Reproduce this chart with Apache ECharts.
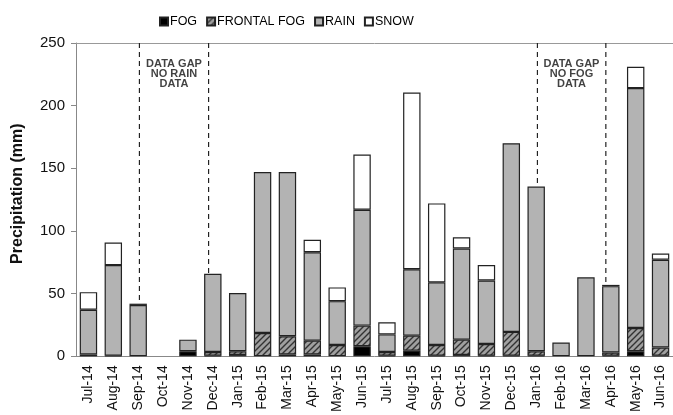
<!DOCTYPE html>
<html><head><meta charset="utf-8">
<script src="https://cdn.jsdelivr.net/npm/echarts@6/dist/echarts.min.js"></script>
<style>html,body{margin:0;padding:0;background:#fff}#c{width:673px;height:415px}</style>
</head><body><div id="c"></div>
<script>
const months = ['Jul-14','Aug-14','Sep-14','Oct-14','Nov-14','Dec-14','Jan-15','Feb-15','Mar-15','Apr-15','May-15','Jun-15','Jul-15','Aug-15','Sep-15','Oct-15','Nov-15','Dec-15','Jan-16','Feb-16','Mar-16','Apr-16','May-16','Jun-16'];
const fog     = [1.5,0.5,0,0,4,0.5,1,0,1.5,1.5,0,8,0.5,4.5,0.5,1,0.5,0.5,0.5,0,0,0.5,4,0.5];
const frontal = [0,0,0,0,0,3,3,18.6,14.5,11,9,16.5,3,12,8.5,12.3,9.3,19,3.5,0,0,2.5,18.6,6.5];
const rain    = [35.7,72.3,41,0,9.3,62.3,46.5,128.4,131,70.5,35,92.5,14,53,50,72.7,50.7,150.5,131.4,11,63,53,191.4,70];
const snow    = [14,18,1,0,0,0,0,0,0,10,11,44,9.7,141,63,9,12.3,0,0,0,0,1,17,5];
const yTicks  = [0,50,100,150,200,250];
// data-gap annotation lines (x in category units, y end = bar top)
const gapX    = [2.55,5.33,18.55,21.3];
const gapEnd  = [42,65.8,135.4,57];
const gapText = [{x:3.94,y:225,t:'DATA GAP\nNO RAIN\nDATA'},{x:19.92,y:225,t:'DATA GAP\nNO FOG\nDATA'}];

function hatch(){
  const c=document.createElement('canvas'); c.width=6; c.height=6;
  const g=c.getContext('2d'); g.fillStyle='#a0a0a0'; g.fillRect(0,0,6,6);
  g.strokeStyle='#333'; g.lineWidth=1.4;
  g.beginPath(); g.moveTo(0,6); g.lineTo(6,0); g.moveTo(-1,1); g.lineTo(1,-1); g.moveTo(5,7); g.lineTo(7,5); g.stroke();
  return c;
}
const nz = a => a.map(v => v === 0 ? '-' : v);
const border = {borderColor:'#222', borderWidth:1.2};
const F = 'Liberation Sans, Arial, sans-serif';

const series = [
  {name:'FOG', type:'bar', stack:'s', data:nz(fog), itemStyle:Object.assign({color:'#000'},border)},
  {name:'FRONTAL FOG', type:'bar', stack:'s', data:nz(frontal), itemStyle:Object.assign({color:{image:hatch(),repeat:'repeat'}},border)},
  {name:'RAIN', type:'bar', stack:'s', data:nz(rain), itemStyle:Object.assign({color:'#b3b3b3'},border)},
  {name:'SNOW', type:'bar', stack:'s', data:nz(snow), itemStyle:Object.assign({color:'#fff'},border)}
];
series.forEach(s=>{s.barCategoryGap='30%'; s.emphasis={disabled:true};});
gapX.forEach((x,i)=>{
  series.push({type:'line', xAxisIndex:1, data:[[x,250],[x,gapEnd[i]]], symbol:'none', silent:true,
    lineStyle:{color:'#222', width:1.2, type:[5,4]}});
});
series.push({type:'scatter', xAxisIndex:1, symbolSize:0, silent:true,
  data:gapText.map(g=>({value:[g.x,g.y], label:{show:true, formatter:g.t}})),
  label:{position:'inside', color:'#111', fontFamily:F, fontWeight:'bold', fontSize:11, lineHeight:10, align:'center'}});

const chart = echarts.init(document.getElementById('c'));
chart.setOption({
  animation:false,
  legend:{data:['FOG','FRONTAL FOG','RAIN','SNOW'], left:154, top:10, icon:'rect', itemWidth:8, itemHeight:8, itemGap:9,
    textStyle:{fontFamily:F, fontSize:12.5, color:'#000', padding:[0,0,0,-3]}},
  grid:{left:76, top:43, width:605, height:314},
  xAxis:[
    {type:'category', data:months, axisLine:{lineStyle:{color:'#888'}},
     axisTick:{length:5, lineStyle:{color:'#888'}},
     axisLabel:{rotate:90, interval:0, fontFamily:F, fontSize:14, color:'#111', margin:9}},
    {type:'value', min:0, max:24, position:'top', axisLine:{show:true, lineStyle:{color:'#999'}},
     axisTick:{show:false}, axisLabel:{show:false}, splitLine:{show:false}}
  ],
  yAxis:{type:'value', min:yTicks[0], max:yTicks[yTicks.length-1], interval:50,
    name:'Precipitation (mm)', nameLocation:'middle', nameGap:50,
    nameTextStyle:{fontFamily:F, fontWeight:'bold', fontSize:16, color:'#111', padding:[0,0,0,12]},
    axisLine:{show:true, lineStyle:{color:'#888'}}, axisTick:{show:true, length:5, lineStyle:{color:'#888'}},
    splitLine:{show:false}, axisLabel:{fontFamily:F, fontSize:15, color:'#111', margin:11}},
  series:series
});
</script></body></html>
